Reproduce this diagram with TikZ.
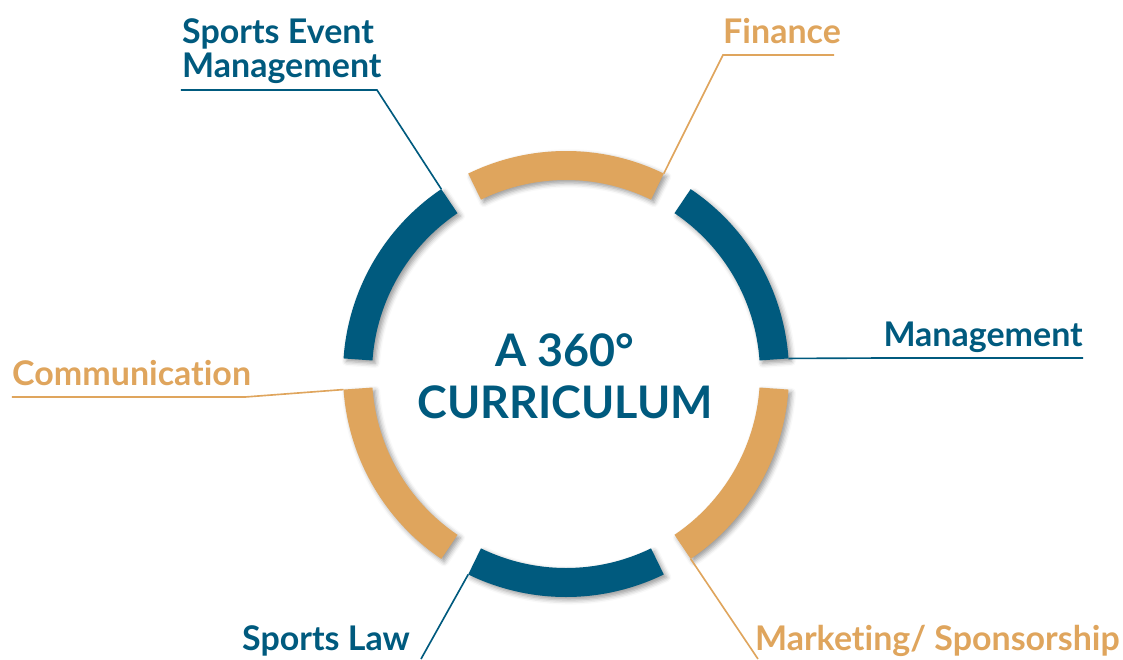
\documentclass[tikz,border=0pt]{standalone}
\usepackage{fontspec}
\setmainfont{Lato}[Ligatures=NoCommon]
\usetikzlibrary{shadows.blur}
\definecolor{curblue}{RGB}{0,90,126}
\definecolor{curgold}{RGB}{223,165,93}
\newcommand{\ringout}{223}
\newcommand{\ringin}{194}
\newcommand{\labelfont}{\fontsize{29}{29}\selectfont\bfseries}
\newcommand{\titlefont}{\fontsize{38.3}{44}\selectfont\bfseries}
\newcommand{\ringseg}[3]{%
  \fill[#3, ringshade] (#1:\ringout) arc[start angle=#1, end angle=#2, radius=\ringout]
    -- (#2:\ringin) arc[start angle=#2, end angle=#1, radius=\ringin] -- cycle;}

\begin{document}
\begin{tikzpicture}[x=0.03cm, y=0.03cm,
    lbl/.style={font=\labelfont, inner sep=0pt, align=left},
    bluelbl/.style={lbl, text=curblue},
    goldlbl/.style={lbl, text=curgold},
    lead/.style={line width=1.4pt, line join=miter},
    ringshade/.style={blur shadow={shadow xshift=2.5pt, shadow yshift=-2.5pt,%
                      shadow blur radius=4pt, shadow opacity=40}}
]
\useasboundingbox (-566,-285) rectangle (557,374);

% ring of six segments
\ringseg{64}{116}{curgold}
\ringseg{124}{176}{curblue}
\ringseg{184}{236}{curgold}
\ringseg{244}{296}{curblue}
\ringseg{304}{356}{curgold}
\ringseg{4}{56}{curblue}

\node[text=curblue, font=\titlefont, anchor=base] (title) at (-1,8) {A 360°};
\node[text=curblue, font=\titlefont, anchor=base] (title2) at (-1,-44) {CURRICULUM};

% where the leaders meet the ring
\coordinate (fin-end) at (64:\ringout);
\coordinate (sem-end) at (124:\ringout);
\coordinate (com-end) at (184:\ringout);
\coordinate (law-end) at (244:\ringout);
\coordinate (mkt-end) at (304:\ringout);
\coordinate (mgt-end) at (4:\ringout);

% labels
\node[bluelbl, anchor=base west] (sem) at (-384,297) {Sports Event\\Management};
\node[goldlbl, anchor=base west] (fin) at (157,331) {Finance};
\node[bluelbl, anchor=base east] (mgt) at (517,28) {Management};
\node[goldlbl, anchor=base west] (com) at (-554,-11) {Communication};
\node[bluelbl, anchor=base west] (law) at (-324,-276) {Sports Law};
\node[goldlbl, anchor=base east] (mkt) at (554,-276) {Marketing/ Sponsorship};

\coordinate (sem-a) at (-385,284);
\coordinate (sem-b) at (-189,284);
\coordinate (fin-a) at (157,319);
\coordinate (fin-b) at (268,319);
\coordinate (mgt-a) at (319,16);
\coordinate (mgt-b) at (517,16);
\coordinate (com-a) at (-554,-23);
\coordinate (com-b) at (-321,-23);
\coordinate (law-a) at (-145,-285);
\coordinate (mkt-a) at (192,-285);

% leaders
\draw[lead, curblue] (sem-a) -- (sem-b) -- (sem-end);
\draw[lead, curgold] (fin-b) -- (fin-a) -- (fin-end);
\draw[lead, curblue] (mgt-b) -- (mgt-a) -- (mgt-end);
\draw[lead, curgold] (com-a) -- (com-b) -- (com-end);
\draw[lead, curblue] (law-a) -- (law-end);
\draw[lead, curgold] (mkt-a) -- (mkt-end);

\end{tikzpicture}
\end{document}
